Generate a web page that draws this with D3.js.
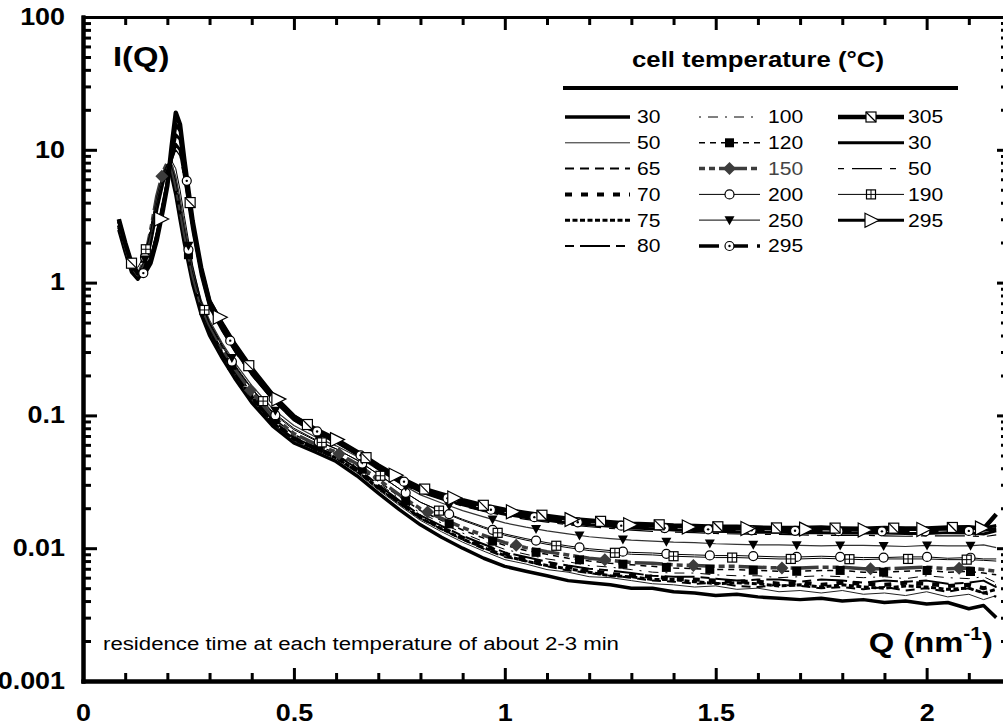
<!DOCTYPE html>
<html lang="en">
<head>
<meta charset="utf-8">
<title>I(Q) vs cell temperature</title>
<style>
  body { margin: 0; background: #fff; }
  svg { display: block; font-family: "Liberation Sans", Arial, sans-serif; }
  .axis path, .axis line { stroke: #000; }
  .axis text { font-weight: bold; font-size: 23px; fill: #000; }
</style>
</head>
<body>
<svg id="chart" width="1003" height="725"></svg>
<script src="https://cdn.jsdelivr.net/npm/d3@7"></script>
<script>
// scattering vector grid (nm^-1), shared by all runs
const q = [0.085, 0.10, 0.115, 0.13, 0.145, 0.16, 0.175, 0.19, 0.20, 0.21,
           0.22, 0.23, 0.24, 0.26, 0.28, 0.30, 0.33, 0.36, 0.40, 0.45,
           0.50, 0.55, 0.60, 0.65, 0.70, 0.75,
           0.80, 0.85, 0.90, 0.95, 1.0, 1.05, 1.1, 1.15, 1.2, 1.25,
           1.3, 1.35, 1.4, 1.45, 1.5, 1.55, 1.6, 1.65, 1.7, 1.75,
           1.8, 1.85, 1.9, 1.95, 2.0, 2.05, 2.1, 2.135, 2.165];

// I(Q) for each cell temperature
const i30a = [2.5, 1.7, 1.2, 1.06, 1.25, 2.0, 3.6, 5.8, 6.8, 6.4,
  4.6, 3.0, 2.0, 0.98, 0.58, 0.40, 0.27, 0.19, 0.125, 0.083,
  0.062, 0.053, 0.045, 0.035, 0.026, 0.0195,
  0.0150, 0.0121, 0.0100, 0.0084, 0.0073, 0.0067, 0.0062, 0.0057, 0.0055, 0.0053,
  0.0050, 0.0050, 0.0047, 0.0046, 0.0044, 0.0045, 0.0043, 0.0042, 0.0041, 0.0042,
  0.0040, 0.0041, 0.0039, 0.0040, 0.0038, 0.0039, 0.0035, 0.0037, 0.0030];
const i50a = [2.6, 1.75, 1.22, 1.08, 1.3, 2.1, 3.8, 6.0, 7.0, 6.6,
  4.8, 3.1, 2.1, 1.02, 0.6, 0.42, 0.28, 0.2, 0.13, 0.086,
  0.064, 0.055, 0.047, 0.037, 0.0275, 0.021,
  0.0162, 0.0133, 0.0111, 0.0095, 0.0082, 0.0076, 0.0069, 0.0066, 0.0061, 0.0060,
  0.0057, 0.0054, 0.0053, 0.0051, 0.0052, 0.0049, 0.0050, 0.0047, 0.0048, 0.0046,
  0.0048, 0.0045, 0.0046, 0.0044, 0.0047, 0.0043, 0.0045, 0.0041, 0.0044];
const i65 = [2.7, 1.8, 1.25, 1.1, 1.35, 2.2, 4.0, 6.3, 7.3, 6.8,
  4.9, 3.2, 2.15, 1.05, 0.62, 0.43, 0.29, 0.205, 0.135, 0.088,
  0.066, 0.056, 0.048, 0.038, 0.0285, 0.0218,
  0.0168, 0.0139, 0.0116, 0.0099, 0.0086, 0.0080, 0.0073, 0.0068, 0.0065, 0.0062,
  0.0060, 0.0057, 0.0056, 0.0054, 0.0055, 0.0052, 0.0051, 0.0053, 0.0052, 0.0050,
  0.0051, 0.0049, 0.0051, 0.0048, 0.0050, 0.0047, 0.0050, 0.0046, 0.0043];
const i70 = [2.7, 1.8, 1.26, 1.1, 1.35, 2.2, 4.1, 6.4, 7.5, 7.0,
  5.0, 3.3, 2.2, 1.07, 0.63, 0.44, 0.295, 0.21, 0.138, 0.09,
  0.067, 0.057, 0.049, 0.039, 0.029, 0.0222,
  0.0172, 0.0143, 0.0120, 0.0104, 0.0091, 0.0083, 0.0077, 0.0072, 0.0068, 0.0064,
  0.0062, 0.0061, 0.0059, 0.0058, 0.0057, 0.0056, 0.0056, 0.0054, 0.0055, 0.0053,
  0.0055, 0.0054, 0.0053, 0.0055, 0.0054, 0.0052, 0.0053, 0.0050, 0.0052];
const i75 = [2.6, 1.75, 1.23, 1.09, 1.32, 2.15, 3.9, 6.2, 7.2, 6.8,
  4.9, 3.2, 2.15, 1.04, 0.61, 0.43, 0.29, 0.205, 0.134, 0.088,
  0.066, 0.056, 0.048, 0.038, 0.0285, 0.0219,
  0.0169, 0.0140, 0.0117, 0.0101, 0.0088, 0.0080, 0.0074, 0.0070, 0.0066, 0.0062,
  0.0061, 0.0058, 0.0058, 0.0056, 0.0054, 0.0055, 0.0054, 0.0052, 0.0053, 0.0051,
  0.0053, 0.0051, 0.0050, 0.0052, 0.0051, 0.0049, 0.0050, 0.0046, 0.0049];
const i80 = [2.7, 1.8, 1.27, 1.12, 1.38, 2.3, 4.2, 6.5, 7.6, 7.1,
  5.1, 3.35, 2.25, 1.09, 0.64, 0.45, 0.3, 0.212, 0.14, 0.092,
  0.068, 0.058, 0.05, 0.04, 0.03, 0.0228,
  0.0177, 0.0147, 0.0124, 0.0107, 0.0093, 0.0086, 0.0079, 0.0074, 0.0070, 0.0068,
  0.0065, 0.0062, 0.0061, 0.0061, 0.0059, 0.0057, 0.0058, 0.0058, 0.0056, 0.0058,
  0.0057, 0.0055, 0.0057, 0.0056, 0.0057, 0.0054, 0.0055, 0.0057, 0.0051];
const i100 = [2.8, 1.85, 1.28, 1.12, 1.4, 2.3, 4.3, 6.6, 7.7, 7.2,
  5.2, 3.4, 2.3, 1.1, 0.65, 0.46, 0.305, 0.215, 0.143, 0.094,
  0.07, 0.059, 0.051, 0.041, 0.031, 0.0236,
  0.0184, 0.0155, 0.0130, 0.0112, 0.0098, 0.0090, 0.0083, 0.0079, 0.0074, 0.0072,
  0.0069, 0.0066, 0.0065, 0.0065, 0.0063, 0.0062, 0.0062, 0.0060, 0.0061, 0.0062,
  0.0061, 0.0060, 0.0061, 0.0059, 0.0062, 0.0060, 0.0059, 0.0061, 0.0055];
const i120 = [2.8, 1.85, 1.3, 1.13, 1.42, 2.4, 4.4, 6.8, 7.9, 7.4,
  5.3, 3.5, 2.35, 1.12, 0.66, 0.47, 0.31, 0.22, 0.146, 0.096,
  0.072, 0.06, 0.052, 0.042, 0.032, 0.0245,
  0.0192, 0.0162, 0.0137, 0.0119, 0.0105, 0.0096, 0.0090, 0.0084, 0.0080, 0.0077,
  0.0075, 0.0073, 0.0071, 0.0070, 0.0069, 0.0069, 0.0068, 0.0067, 0.0067, 0.0068,
  0.0068, 0.0066, 0.0066, 0.0067, 0.0068, 0.0066, 0.0067, 0.0065, 0.0063];
const i150 = [2.9, 1.9, 1.32, 1.15, 1.45, 2.45, 4.5, 6.9, 8.0, 7.5,
  5.4, 3.6, 2.4, 1.14, 0.67, 0.48, 0.32, 0.225, 0.15, 0.098,
  0.073, 0.061, 0.053, 0.043, 0.033, 0.0252,
  0.0198, 0.0168, 0.0143, 0.0125, 0.0110, 0.0101, 0.0094, 0.0089, 0.0084, 0.0081,
  0.0078, 0.0077, 0.0075, 0.0074, 0.0073, 0.0073, 0.0072, 0.0071, 0.0071, 0.0072,
  0.0072, 0.0070, 0.0070, 0.0071, 0.0072, 0.0070, 0.0071, 0.0069, 0.0067];
const i200 = [2.9, 1.9, 1.33, 1.15, 1.45, 2.4, 4.4, 6.7, 7.8, 7.6,
  5.8, 3.9, 2.6, 1.2, 0.7, 0.49, 0.33, 0.235, 0.158, 0.104,
  0.078, 0.065, 0.056, 0.046, 0.036, 0.028,
  0.0222, 0.0190, 0.0165, 0.0145, 0.0128, 0.0118, 0.0110, 0.0104, 0.0099, 0.0096,
  0.0093, 0.0092, 0.0090, 0.0089, 0.0088, 0.0088, 0.0087, 0.0086, 0.0086, 0.0087,
  0.0086, 0.0085, 0.0085, 0.0086, 0.0086, 0.0084, 0.0085, 0.0083, 0.0083];
const i250 = [2.9, 1.9, 1.33, 1.14, 1.4, 2.3, 4.2, 6.4, 7.6, 7.8,
  6.3, 4.3, 2.8, 1.28, 0.74, 0.52, 0.35, 0.25, 0.168, 0.112,
  0.084, 0.069, 0.059, 0.049, 0.039, 0.031,
  0.0252, 0.0219, 0.0192, 0.0172, 0.0155, 0.0144, 0.0135, 0.0128, 0.0122, 0.0118,
  0.0115, 0.0113, 0.0111, 0.0110, 0.0108, 0.0107, 0.0106, 0.0106, 0.0105, 0.0104,
  0.0105, 0.0105, 0.0104, 0.0103, 0.0105, 0.0104, 0.0104, 0.0106, 0.0101];
const i295a = [2.9, 1.95, 1.38, 1.17, 1.18, 1.45, 2.2, 3.8, 5.6, 9.5,
  15.5, 14.0, 8.0, 2.8, 1.25, 0.70, 0.46, 0.32, 0.21, 0.135,
  0.095, 0.077, 0.065, 0.052, 0.041, 0.033,
  0.0275, 0.0245, 0.0220, 0.0200, 0.0185, 0.0175, 0.0166, 0.0159, 0.0154, 0.0150,
  0.0146, 0.0143, 0.0141, 0.0140, 0.0138, 0.0137, 0.0136, 0.0136, 0.0135, 0.0136,
  0.0134, 0.0133, 0.0134, 0.0135, 0.0134, 0.0133, 0.0135, 0.0137, 0.0140];
const i305 = [3.0, 2.0, 1.4, 1.18, 1.16, 1.4, 2.1, 3.6, 5.4, 10.5,
  19.0, 15.5, 8.5, 2.9, 1.3, 0.72, 0.48, 0.335, 0.22, 0.14,
  0.098, 0.079, 0.066, 0.053, 0.042, 0.034,
  0.0285, 0.0255, 0.0230, 0.0210, 0.0195, 0.0184, 0.0175, 0.0167, 0.0162, 0.0157,
  0.0153, 0.0151, 0.0148, 0.0147, 0.0145, 0.0145, 0.0143, 0.0142, 0.0142, 0.0143,
  0.0141, 0.0140, 0.0142, 0.0141, 0.0141, 0.0143, 0.0144, 0.0140, 0.0180];
const i30b = [2.9, 1.95, 1.37, 1.16, 1.17, 1.45, 2.3, 4.0, 5.8, 8.5,
  11.0, 10.0, 6.5, 2.5, 1.15, 0.66, 0.44, 0.31, 0.205, 0.132,
  0.093, 0.075, 0.063, 0.051, 0.04, 0.032,
  0.0268, 0.0238, 0.0212, 0.0194, 0.0180, 0.0170, 0.0162, 0.0155, 0.0150, 0.0146,
  0.0142, 0.0140, 0.0137, 0.0136, 0.0134, 0.0133, 0.0132, 0.0132, 0.0131, 0.0131,
  0.0130, 0.0131, 0.0130, 0.0129, 0.0129, 0.0131, 0.0130, 0.0128, 0.0135];
const i50b = [2.8, 1.9, 1.34, 1.15, 1.18, 1.5, 2.4, 4.2, 6.0, 8.2,
  10.0, 9.0, 6.0, 2.4, 1.12, 0.64, 0.43, 0.3, 0.2, 0.13,
  0.091, 0.073, 0.062, 0.05, 0.039, 0.031,
  0.0262, 0.0232, 0.0207, 0.0189, 0.0175, 0.0165, 0.0157, 0.0150, 0.0145, 0.0141,
  0.0137, 0.0134, 0.0132, 0.0131, 0.0129, 0.0128, 0.0127, 0.0127, 0.0126, 0.0125,
  0.0125, 0.0125, 0.0124, 0.0123, 0.0124, 0.0124, 0.0124, 0.0122, 0.0126];
const i190 = [2.8, 1.9, 1.4, 1.3, 1.6, 2.4, 4.0, 6.3, 7.8, 8.3,
  7.2, 5.0, 3.2, 1.35, 0.72, 0.5, 0.34, 0.24, 0.16, 0.106,
  0.08, 0.066, 0.056, 0.046, 0.036, 0.028,
  0.0222, 0.0188, 0.0162, 0.0142, 0.0125, 0.0115, 0.0107, 0.0101, 0.0096, 0.0093,
  0.0090, 0.0089, 0.0087, 0.0086, 0.0085, 0.0085, 0.0084, 0.0083, 0.0083, 0.0084,
  0.0083, 0.0082, 0.0083, 0.0083, 0.0083, 0.0082, 0.0082, 0.0081, 0.0080];
const i295b = [3.0, 2.0, 1.4, 1.2, 1.2, 1.5, 2.3, 3.6, 5.5, 9.0,
  13.0, 12.0, 7.5, 2.8, 1.3, 0.74, 0.5, 0.35, 0.23, 0.145,
  0.1, 0.079, 0.066, 0.053, 0.042, 0.034,
  0.0285, 0.0254, 0.0228, 0.0208, 0.0192, 0.0181, 0.0172, 0.0165, 0.0159, 0.0154,
  0.0150, 0.0147, 0.0145, 0.0144, 0.0142, 0.0141, 0.0140, 0.0140, 0.0139, 0.0140,
  0.0138, 0.0137, 0.0138, 0.0139, 0.0138, 0.0139, 0.0140, 0.0142, 0.0148];

const temps = ["30", "50", "65", "70", "75", "80",
               "100", "120", "150", "200", "250", "295",
               "305", "30", "50", "190", "295"];
const runs = [i30a, i50a, i65, i70, i75, i80,
              i100, i120, i150, i200, i250, i295a,
              i305, i30b, i50b, i190, i295b];

const xTicks = [0, 0.5, 1, 1.5, 2];
const xTickLabels = ["0", "0.5", "1", "1.5", "2"];
const yTicks = [0.001, 0.01, 0.1, 1, 10, 100];
const yTickLabels = ["0.001", "0.01", "0.1", "1", "10", "100"];

// line look per run (same order as temps)
const styles = [
  {w: 3.5},
  {w: 1, color: "#222"},
  {w: 2, dash: "9,6"},
  {w: 4, dash: "7,9"},
  {w: 3, dash: "5,2.5"},
  {w: 2, dash: "9,6,30,6"},
  {w: 1, dash: "2,7,10,7"},
  {w: 1.5, dash: "6,5", marker: "square", m0: 0.044, mStep: 0.103},
  {w: 3.5, dash: "6,4,6,4,28,4", color: "#3c3c3c", marker: "diamond", m0: 0.187, mStep: 0.21},
  {w: 1, marker: "circle", m0: 0.044, mStep: 0.103},
  {w: 1.2, color: "#333", marker: "tridown", m0: 0.044, mStep: 0.103},
  {w: 3.5, dash: "20,9", marker: "dotcircle", m0: 0.04, mStep: 0.103},
  {w: 4.5, marker: "slashsq", m0: 0.115, mStep: 0.139},
  {w: 3},
  {w: 1.2, dash: "6,8,30,8"},
  {w: 1, marker: "gridsq", m0: 0.149, mStep: 0.139},
  {w: 3, marker: "triright", m0: 0.045, mStep: 0.139}
];

const svg = d3.select("#chart");
const x = d3.scaleLinear().domain([0, 2.2]).range([83, 1011]);
const y = d3.scaleLog().domain([0.001, 100]).range([681, 17]);

// the original figure is slightly stretched sideways, so widen text a bit
function widen(sel, k) {
  k = k || 1.17;
  sel.each(function() {
    const t = d3.select(this);
    const x0 = +t.attr("x") || 0;
    t.attr("transform", "translate(" + (x0 * (1 - k)) + ",0) scale(" + k + ",1)");
  });
}

// ---- curves
const line = d3.line()
  .x(function(d) { return x(d[0]); })
  .y(function(d) { return y(d[1]); });

const curves = svg.append("g").attr("class", "curves");
runs.forEach(function(vals, i) {
  const st = styles[i];
  curves.append("path")
    .datum(q.map(function(qq, j) { return [qq, vals[j]]; }))
    .attr("d", line)
    .attr("fill", "none")
    .attr("stroke", st.color || "#000")
    .attr("stroke-width", st.w)
    .attr("stroke-dasharray", st.dash || null)
    .attr("stroke-linejoin", "round");
});

// value on a run at any q, following the drawn polyline
function valueAt(vals, qq) {
  const j = Math.max(1, Math.min(q.length - 1, d3.bisectLeft(q, qq)));
  const t = (qq - q[j - 1]) / (q[j] - q[j - 1]);
  return Math.exp(Math.log(vals[j - 1]) * (1 - t) + Math.log(vals[j]) * t);
}

function drawMarker(g, type, px, py, color) {
  const c = color || "#000";
  if (type === "square") {
    g.append("rect").attr("x", px - 4.5).attr("y", py - 4.5).attr("width", 9).attr("height", 9).attr("fill", c);
  } else if (type === "diamond") {
    g.append("path").attr("d", "M" + px + "," + (py - 6.5) + "L" + (px + 6.5) + "," + py + "L" + px + "," + (py + 6.5) + "L" + (px - 6.5) + "," + py + "Z").attr("fill", c);
  } else if (type === "circle") {
    g.append("circle").attr("cx", px).attr("cy", py).attr("r", 4.5).attr("fill", "#fff").attr("stroke", "#000").attr("stroke-width", 1.2);
  } else if (type === "tridown") {
    g.append("path").attr("d", "M" + (px - 5) + "," + (py - 4) + "L" + (px + 5) + "," + (py - 4) + "L" + px + "," + (py + 5) + "Z").attr("fill", "#000");
  } else if (type === "dotcircle") {
    g.append("circle").attr("cx", px).attr("cy", py).attr("r", 4.5).attr("fill", "#fff").attr("stroke", "#000").attr("stroke-width", 1.2);
    g.append("circle").attr("cx", px).attr("cy", py).attr("r", 1.2).attr("fill", "#000");
  } else if (type === "slashsq") {
    g.append("rect").attr("x", px - 5).attr("y", py - 5).attr("width", 10).attr("height", 10).attr("fill", "#fff").attr("stroke", "#000").attr("stroke-width", 1.2);
    g.append("line").attr("x1", px - 5).attr("y1", py - 5).attr("x2", px + 5).attr("y2", py + 5).attr("stroke", "#000").attr("stroke-width", 1.2);
  } else if (type === "gridsq") {
    g.append("rect").attr("x", px - 4.5).attr("y", py - 4.5).attr("width", 9).attr("height", 9).attr("fill", "#fff").attr("stroke", "#000").attr("stroke-width", 1.2);
    g.append("line").attr("x1", px - 4.5).attr("y1", py).attr("x2", px + 4.5).attr("y2", py).attr("stroke", "#000").attr("stroke-width", 1);
    g.append("line").attr("x1", px).attr("y1", py - 4.5).attr("x2", px).attr("y2", py + 4.5).attr("stroke", "#000").attr("stroke-width", 1);
  } else if (type === "triright") {
    g.append("path").attr("d", "M" + (px - 6) + "," + (py - 7) + "L" + (px + 8) + "," + py + "L" + (px - 6) + "," + (py + 7) + "Z").attr("fill", "#fff").attr("stroke", "#000").attr("stroke-width", 1.2);
  }
}

const marks = svg.append("g").attr("class", "markers");
runs.forEach(function(vals, i) {
  const st = styles[i];
  if (!st.marker) return;
  for (let m = st.m0; m <= 2.16; m += st.mStep) {
    if (m < q[0]) continue;
    drawMarker(marks, st.marker, x(m), y(valueAt(vals, m)), st.color);
  }
});

// ---- axes
const xMinor = x.ticks(22).filter(function(d) { return xTicks.indexOf(+d.toFixed(2)) < 0; });
const yMinor = y.ticks().filter(function(d) { return yTicks.indexOf(d) < 0; });

function styleAxis(g, pathW) {
  g.attr("class", "axis");
  g.select(".domain").attr("stroke-width", pathW).attr("stroke-linecap", "square");
  g.selectAll(".tick line").attr("stroke-width", 3);
}

const bottom = svg.append("g").attr("transform", "translate(0,681)")
  .call(d3.axisBottom(x).tickValues(xTicks).tickSize(-13).tickSizeOuter(0).tickPadding(24)
    .tickFormat(function(d, i) { return xTickLabels[i]; }));
styleAxis(bottom, 4);
svg.append("g").attr("transform", "translate(0,681)")
  .call(d3.axisBottom(x).tickValues(xMinor).tickSize(-8).tickSizeOuter(0).tickFormat(""))
  .call(function(g) { styleAxis(g, 4); });

svg.append("g").attr("transform", "translate(0,17)")
  .call(d3.axisTop(x).tickValues(xTicks).tickSize(-13).tickSizeOuter(0).tickFormat(""))
  .call(function(g) { styleAxis(g, 3); });
svg.append("g").attr("transform", "translate(0,17)")
  .call(d3.axisTop(x).tickValues(xMinor).tickSize(-8).tickSizeOuter(0).tickFormat(""))
  .call(function(g) { styleAxis(g, 3); });

const left = svg.append("g").attr("transform", "translate(83,0)")
  .call(d3.axisLeft(y).tickValues(yTicks).tickSize(-14).tickSizeOuter(0).tickPadding(18)
    .tickFormat(function(d, i) { return yTickLabels[i]; }));
styleAxis(left, 4);
svg.append("g").attr("transform", "translate(83,0)")
  .call(d3.axisLeft(y).tickValues(yMinor).tickSize(-8).tickSizeOuter(0).tickFormat(""))
  .call(function(g) { styleAxis(g, 4); });

// right axis sits just past the picture edge; only its tick tips show
svg.append("g").attr("transform", "translate(" + x(2.2) + ",0)")
  .call(d3.axisRight(y).tickValues(yTicks).tickSize(-14).tickSizeOuter(0).tickFormat(""))
  .call(function(g) { styleAxis(g, 3); });
svg.append("g").attr("transform", "translate(" + x(2.2) + ",0)")
  .call(d3.axisRight(y).tickValues(yMinor).tickSize(-10).tickSizeOuter(0).tickFormat(""))
  .call(function(g) { styleAxis(g, 3); });

widen(svg.selectAll(".axis text"));

// ---- axis titles and note
const yTitle = svg.append("text").attr("x", 113).attr("y", 66)
  .attr("font-size", 28).attr("font-weight", "bold").text("I(Q)");
widen(yTitle);

const xTitle = svg.append("text").attr("x", 993).attr("y", 652)
  .attr("text-anchor", "end").attr("font-size", 28).attr("font-weight", "bold");
xTitle.append("tspan").text("Q (nm");
xTitle.append("tspan").attr("dy", -12).attr("font-size", 18).text("-1");
xTitle.append("tspan").attr("dy", 12).text(")");
widen(xTitle);

const note = svg.append("text").attr("x", 103).attr("y", 650)
  .attr("font-size", 19).text("residence time at each temperature of about 2-3 min");
widen(note);

// ---- legend
const legend = svg.append("g").attr("class", "legend");
const title = legend.append("text").attr("x", 758).attr("y", 67)
  .attr("text-anchor", "middle").attr("font-size", 22).attr("font-weight", "bold")
  .text("cell temperature (\u00B0C)");
widen(title);
legend.append("line").attr("x1", 563).attr("x2", 958).attr("y1", 88).attr("y2", 88)
  .attr("stroke", "#000").attr("stroke-width", 4);

const cols = [
  {x1: 565, x2: 630, tx: 637, n: 6},
  {x1: 699, x2: 760, tx: 768, n: 6},
  {x1: 838, x2: 904, tx: 908, n: 5}
];
let idx = 0;
cols.forEach(function(c) {
  for (let r = 0; r < c.n; r++, idx++) {
    const st = styles[idx];
    const ly = 117 + r * 25.8;
    legend.append("line").attr("x1", c.x1).attr("x2", c.x2).attr("y1", ly).attr("y2", ly)
      .attr("stroke", st.color || "#000").attr("stroke-width", st.w)
      .attr("stroke-dasharray", st.dash || null);
    if (st.marker) drawMarker(legend, st.marker, (c.x1 + c.x2) / 2, ly, st.color);
    const t = legend.append("text").attr("x", c.tx).attr("y", ly + 6.5)
      .attr("font-size", 18).attr("fill", idx === 8 ? "#444" : "#000").text(temps[idx]);
    widen(t);
  }
});
</script>
</body>
</html>
